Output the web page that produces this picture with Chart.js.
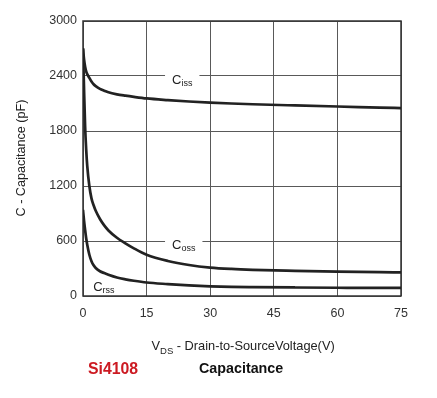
<!DOCTYPE html>
<html><head><meta charset="utf-8">
<script src="https://cdn.jsdelivr.net/npm/chart.js@4/dist/chart.umd.min.js"></script>
<style>html,body{margin:0;padding:0;background:#fff;}canvas{display:block;}</style>
</head><body>
<canvas id="c" width="437" height="398"></canvas>
<script>
const voltages = [0, 0.25, 0.5, 0.75, 1, 1.5, 2, 2.5, 3, 4, 5, 6, 8, 10, 12, 15, 20, 25, 30, 35, 40, 50, 60, 70, 75];
const ciss = [2700, 2580, 2500, 2450, 2420, 2380, 2340, 2310, 2290, 2260, 2240, 2222, 2200, 2185, 2172, 2155, 2137, 2122, 2110, 2100, 2092, 2079, 2067, 2056, 2050];
const coss = [2700, 2250, 1850, 1600, 1420, 1200, 1065, 990, 930, 840, 770, 715, 635, 575, 520, 450, 382, 338, 310, 295, 286, 275, 266, 260, 258];
const crss = [940, 820, 720, 630, 560, 450, 380, 335, 305, 270, 250, 232, 202, 182, 166, 147, 130, 116, 106, 100, 97, 93, 90, 88, 88];
const xTicks = [0, 15, 30, 45, 60, 75];
const yTicks = [0, 600, 1200, 1800, 2400, 3000];
const curveLabels = [
  {main: 'C', sub: 'iss', x: 21, y: 2400, gap: true},
  {main: 'C', sub: 'oss', x: 21, y: 600, gap: true},
  {main: 'C', sub: 'rss', x: 2.4, y: 55, gap: false}
];
const xTitle = {main: 'V', sub: 'DS', rest: ' - Drain-to-SourceVoltage(V)'};
const yTitle = 'C - Capacitance (pF)';
const partName = 'Si4108';
const chartTitle = 'Capacitance';

const FONT = 'Liberation Sans, Arial, Helvetica, sans-serif';
const toPts = arr => voltages.map((v, i) => ({x: v, y: arr[i]}));
const lineStyle = {borderColor: '#222', borderWidth: 2.7, pointRadius: 0, fill: false, cubicInterpolationMode: 'monotone'};

const textPlugin = {
  id: 'texts',
  beforeDatasetsDraw(chart) {
    const ctx = chart.ctx, xs = chart.scales.x, ys = chart.scales.y, a = chart.chartArea;
    ctx.save();
    curveLabels.forEach(l => {
      const px = xs.getPixelForValue(l.x), py = ys.getPixelForValue(l.y);
      ctx.font = '13px ' + FONT;
      const w1 = ctx.measureText(l.main).width;
      ctx.font = '9px ' + FONT;
      const w2 = ctx.measureText(l.sub).width;
      if (l.gap) {
        ctx.fillStyle = '#fff';
        ctx.fillRect(px - 7, py - 3, w1 + w2 + 14, 6);
      }
      ctx.fillStyle = '#222';
      ctx.textBaseline = 'alphabetic';
      ctx.textAlign = 'left';
      const base = l.gap ? py + 8 : py;
      ctx.font = '13px ' + FONT;
      ctx.fillText(l.main, px, base);
      ctx.font = '9px ' + FONT;
      ctx.fillText(l.sub, px + w1, base + 2);
    });
    ctx.strokeStyle = '#333';
    ctx.lineWidth = 1.5;
    ctx.strokeRect(a.left, a.top, a.right - a.left, a.bottom - a.top);
    ctx.restore();
  },
  afterDraw(chart) {
    const ctx = chart.ctx, a = chart.chartArea;
    ctx.save();
    ctx.fillStyle = '#222';
    ctx.font = '12.6px ' + FONT;
    ctx.translate(22, 158);
    ctx.rotate(-Math.PI / 2);
    ctx.textAlign = 'center';
    ctx.textBaseline = 'middle';
    ctx.fillText(yTitle, 0, 0);
    ctx.setTransform(1, 0, 0, 1, 0, 0);
    ctx.textAlign = 'left';
    ctx.textBaseline = 'alphabetic';
    const big = '12.8px ' + FONT, small = '9.5px ' + FONT;
    ctx.font = big;
    const wV = ctx.measureText(xTitle.main).width;
    const wR = ctx.measureText(xTitle.rest).width;
    ctx.font = small;
    const wS = ctx.measureText(xTitle.sub).width;
    const x0 = 151.5;
    const by = 350;
    ctx.font = big;
    ctx.fillText(xTitle.main, x0, by);
    ctx.font = small;
    ctx.fillText(xTitle.sub, x0 + wV, by + 4);
    ctx.font = big;
    ctx.fillText(xTitle.rest, x0 + wV + wS, by);
    ctx.font = 'bold 15.8px ' + FONT;
    ctx.fillStyle = '#cc1a22';
    ctx.fillText(partName, 88, 373.5);
    ctx.font = 'bold 14.3px ' + FONT;
    ctx.fillStyle = '#111';
    ctx.fillText(chartTitle, 199, 373);
    ctx.restore();
  }
};

new Chart(document.getElementById('c'), {
  type: 'line',
  data: {
    datasets: [
      Object.assign({label: 'Ciss', data: toPts(ciss)}, lineStyle),
      Object.assign({label: 'Coss', data: toPts(coss)}, lineStyle),
      Object.assign({label: 'Crss', data: toPts(crss)}, lineStyle)
    ]
  },
  options: {
    responsive: false,
    animation: false,
    devicePixelRatio: 1,
    layout: {padding: {left: 0, top: 21, right: 36, bottom: 0}},
    plugins: {legend: {display: false}, tooltip: {enabled: false}, title: {display: false}},
    scales: {
      x: {
        type: 'linear', min: 0, max: 75,
        afterBuildTicks: s => { s.ticks = xTicks.map(v => ({value: v})); },
        afterFit: s => { s.height = 398 - 296; },
        grid: {color: '#595959', lineWidth: 1, drawTicks: false},
        border: {display: false},
        ticks: {color: '#333', font: {size: 12.5, family: FONT}, padding: 10, maxRotation: 0, callback: v => String(v)}
      },
      y: {
        type: 'linear', min: 0, max: 3000,
        afterBuildTicks: s => { s.ticks = yTicks.map(v => ({value: v})); },
        afterFit: s => { s.width = 83; },
        grid: {color: '#595959', lineWidth: 1, drawTicks: false},
        border: {display: false},
        ticks: {color: '#333', font: {size: 12.5, family: FONT}, padding: 6, callback: v => String(v)}
      }
    }
  },
  plugins: [textPlugin]
});
</script>
</body></html>
